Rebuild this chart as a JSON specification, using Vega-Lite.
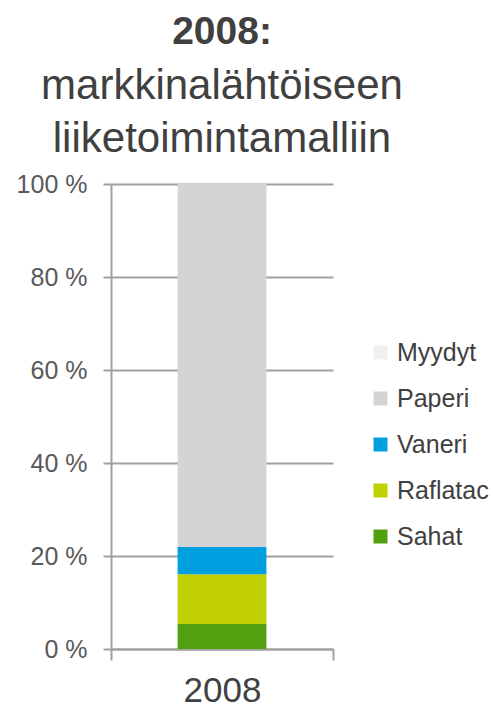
{
  "$schema": "https://vega.github.io/schema/vega-lite/v6.json",
  "width": 222,
  "height": 465,
  "autosize": {"type": "none"},
  "padding": {"left": 111, "top": 184, "right": 161, "bottom": 58},
  "background": "white",
  "title": {
    "text": "2008:",
    "subtitle": ["markkinalähtöiseen", "liiketoimintamalliin"],
    "font": "Liberation Sans",
    "fontSize": 39,
    "fontWeight": "bold",
    "color": "#404040",
    "subtitleFont": "Liberation Sans",
    "subtitleFontSize": 42,
    "subtitleColor": "#404040",
    "subtitleLineHeight": 53,
    "subtitlePadding": 14,
    "anchor": "middle",
    "frame": "group",
    "offset": 12
  },
  "data": {
    "values": [
      {"year": "2008", "segment": "Sahat", "share": 5.4, "order": 1},
      {"year": "2008", "segment": "Raflatac", "share": 10.7, "order": 2},
      {"year": "2008", "segment": "Vaneri", "share": 5.85, "order": 3},
      {"year": "2008", "segment": "Paperi", "share": 78.05, "order": 4},
      {"year": "2008", "segment": "Myydyt", "share": 0, "order": 5}
    ]
  },
  "mark": {"type": "bar", "width": {"band": 0.4}},
  "encoding": {
    "x": {
      "field": "year",
      "type": "nominal",
      "scale": {"paddingInner": 0, "paddingOuter": 0},
      "axis": {
        "title": null,
        "labelAngle": 0,
        "labelFont": "Liberation Sans",
        "labelFontSize": 35,
        "labelColor": "#404040",
        "labelPadding": 13,
        "tickBand": "extent",
        "tickSize": 11,
        "tickWidth": 2,
        "tickColor": "#a0a0a0",
        "domainColor": "#a0a0a0",
        "domainWidth": 2,
        "grid": false
      }
    },
    "y": {
      "field": "share",
      "type": "quantitative",
      "stack": "zero",
      "scale": {"domain": [0, 100], "nice": false},
      "axis": {
        "title": null,
        "values": [0, 20, 40, 60, 80, 100],
        "labelExpr": "datum.value + ' %'",
        "labelFont": "Liberation Sans",
        "labelFontSize": 25,
        "labelColor": "#595959",
        "labelPadding": 16,
        "tickSize": 8,
        "tickWidth": 2,
        "tickColor": "#a0a0a0",
        "domainColor": "#a0a0a0",
        "domainWidth": 2,
        "grid": true,
        "gridColor": "#a0a0a0",
        "gridWidth": 2
      }
    },
    "color": {
      "field": "segment",
      "type": "nominal",
      "scale": {
        "domain": ["Myydyt", "Paperi", "Vaneri", "Raflatac", "Sahat"],
        "range": ["#f0f0f0", "#d4d4d4", "#00a0e0", "#c0cf00", "#529f0f"]
      },
      "legend": {
        "title": null,
        "orient": "none",
        "legendX": 257,
        "legendY": 156,
        "symbolType": "square",
        "symbolSize": 196,
        "symbolStrokeWidth": 0,
        "labelFont": "Liberation Sans",
        "labelFontSize": 25,
        "labelColor": "#404040",
        "labelOffset": 4,
        "rowPadding": 20,
        "padding": 0
      }
    },
    "order": {"field": "order", "type": "quantitative"}
  },
  "config": {"view": {"stroke": null}}
}
